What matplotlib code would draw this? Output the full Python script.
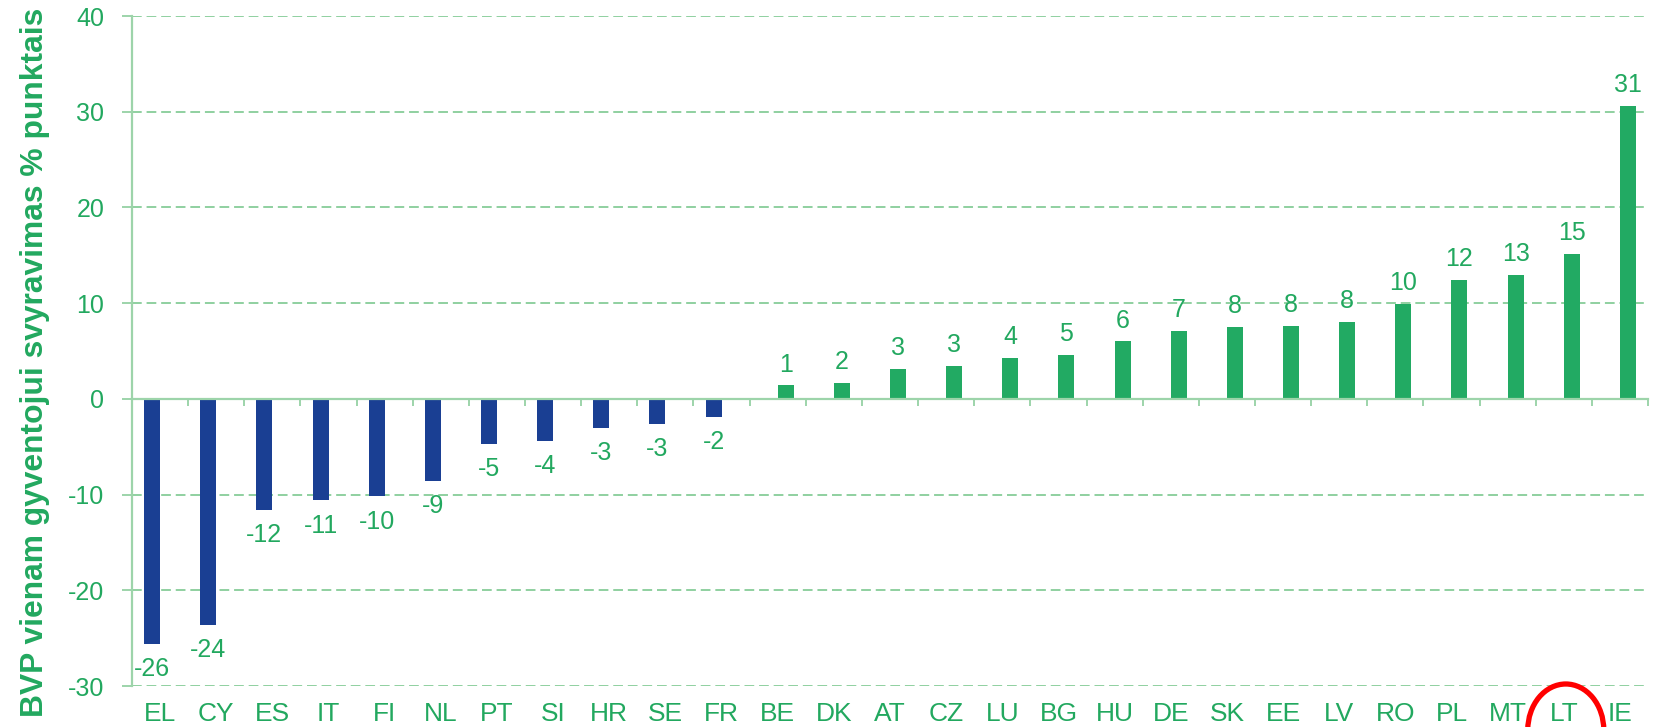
import matplotlib
matplotlib.use("Agg")
import matplotlib.pyplot as plt
from matplotlib.patches import Ellipse
from matplotlib import font_manager

# ---- data ----
categories = ["EL", "CY", "ES", "IT", "FI", "NL", "PT", "SI", "HR", "SE", "FR",
              "BE", "DK", "AT", "CZ", "LU", "BG", "HU", "DE", "SK", "EE", "LV",
              "RO", "PL", "MT", "LT", "IE"]
values = [-25.6, -23.6, -11.6, -10.6, -10.2, -8.6, -4.7, -4.4, -3.0, -2.6, -1.9,
          1.4, 1.7, 3.1, 3.4, 4.3, 4.6, 6.0, 7.1, 7.5, 7.6, 8.0,
          9.9, 12.4, 12.9, 15.1, 30.6]
labels = [-26, -24, -12, -11, -10, -9, -5, -4, -3, -3, -2,
          1, 2, 3, 3, 4, 5, 6, 7, 8, 8, 8, 10, 12, 13, 15, 31]
yticks = [-30, -20, -10, 0, 10, 20, 30, 40]
ylabel = "BVP vienam gyventojui svyravimas % punktais"
highlight = "LT"

# ---- style ----
BLUE = "#1a3f93"
GREEN = "#22aa63"
TEXT = "#22a85f"
GRID = "#8fd0a0"
SPINE = "#9dd4aa"

names = {f.name for f in font_manager.fontManager.ttflist}
family = "Liberation Sans" if "Liberation Sans" in names else "DejaVu Sans"
plt.rcParams["font.family"] = [family, "DejaVu Sans"]

fig = plt.figure(figsize=(16.55, 7.27), dpi=100)
ax = fig.add_axes([132 / 1655, 41 / 727, (1648 - 132) / 1655, (711 - 41) / 727])

x = list(range(len(categories)))
w = 0.285
neg_x = [i - w / 2 for i, v in zip(x, values) if v < 0]
neg_v = [v for v in values if v < 0]
pos_x = [i + w / 2 for i, v in zip(x, values) if v >= 0]
pos_v = [v for v in values if v >= 0]
ax.bar(neg_x, neg_v, width=w, color=BLUE, zorder=3)
ax.bar(pos_x, pos_v, width=w, color=GREEN, zorder=3)

# value labels
for i, v, lab in zip(x, values, labels):
    if v < 0:
        ax.annotate(str(lab), (i - w / 2, v), xytext=(0, -9.5), textcoords="offset points",
                    ha="center", va="top", color=TEXT, fontsize=18, zorder=4)
    else:
        ax.annotate(str(lab), (i + w / 2, v), xytext=(0, 10), textcoords="offset points",
                    ha="center", va="baseline", color=TEXT, fontsize=18, zorder=4)

ax.set_xlim(-0.5, len(categories) - 0.5)
ax.set_ylim(yticks[0], yticks[-1])

# gridlines (dashed), except zero
for t in yticks:
    if t != 0:
        ax.axhline(t, color=GRID, lw=1.4, ls=(0, (5, 2.5)), zorder=1)

# spines
for s in ["top", "right"]:
    ax.spines[s].set_visible(False)
ax.spines["left"].set_color(SPINE)
ax.spines["left"].set_linewidth(1.6)
ax.spines["bottom"].set_position(("data", 0))
ax.spines["bottom"].set_color(SPINE)
ax.spines["bottom"].set_linewidth(1.6)
ax.spines["bottom"].set_zorder(5)

ax.set_yticks(yticks)
ax.set_yticklabels([str(t) for t in yticks])
ax.tick_params(axis="y", direction="out", length=7, width=1.4, color=SPINE,
               labelcolor=TEXT, labelsize=18, pad=13)
ax.set_xticks([i - 0.5 for i in range(len(categories) + 1)])
ax.set_xticklabels([])
ax.tick_params(axis="x", direction="out", length=5, width=1.4, color=SPINE)

# category labels at the bottom
trans = ax.get_xaxis_transform()
for i, c in zip(x, categories):
    ax.annotate(c, (i, 0), xycoords=trans, xytext=(0, -25.5), textcoords="offset points",
                ha="center", va="baseline", color=TEXT, fontsize=19, annotation_clip=False)

fig.text(35 / 1655, 1 - 362 / 727, ylabel, rotation=90, ha="center", va="center",
         color=TEXT, fontsize=22.9, fontweight="bold")

# red highlight ellipse around LT
hi = categories.index(highlight)
xc_px = ax.transData.transform((hi, 0))[0]
ell = Ellipse((xc_px / 100 + 0.02, -0.03), width=0.76, height=0.92, transform=fig.dpi_scale_trans,
              fill=False, edgecolor="#ff0000", lw=3.8, clip_on=False)
fig.add_artist(ell)

fig.savefig("out.png", dpi=100, facecolor="white")
